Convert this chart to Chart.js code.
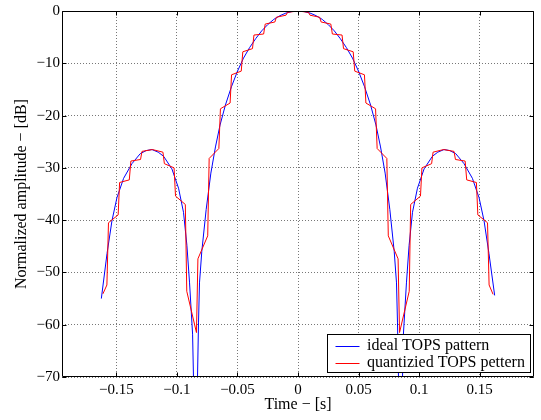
<!DOCTYPE html>
<html><head><meta charset="utf-8">
<script src="https://cdn.jsdelivr.net/npm/chart.js@4.4.1/dist/chart.umd.min.js"></script>
<style>html,body{margin:0;padding:0;background:#fff}#wrap{width:541px;height:420px}</style>
</head><body><div id="wrap"><canvas id="c" width="541" height="420"></canvas></div>
<script>
// ideal TOPS pattern
const idealTime = [-0.1625,-0.1578,-0.1537,-0.1496,-0.1441,-0.1372,-0.1304,-0.1255,-0.1207,-0.1155,-0.111,-0.1042,-0.0987,-0.0946,-0.0918,-0.0896,-0.0871,-0.0846,-0.0822,-0.0814,-0.0795,-0.0759,-0.072,-0.0682,-0.0644,-0.06,-0.055,-0.05,-0.045,-0.04,-0.035,-0.03,-0.025,-0.02,-0.015,-0.01,-0.005,
  0,0.005,0.01,0.015,0.02,0.025,0.03,0.035,0.04,0.045,0.05,0.055,0.06,0.0644,0.0682,0.072,0.0759,0.0795,0.0814,0.0822,0.0846,0.0871,0.0896,0.0918,0.0946,0.0987,0.1042,0.111,0.1155,0.1207,0.1255,0.1304,0.1372,0.1441,0.1496,0.1537,0.1578,0.1625];
const idealDb = [-55.0,-46.4,-40.1,-35.7,-32.0,-29.2,-27.3,-26.7,-26.5,-27.0,-27.8,-30.2,-33.9,-38.5,-44.8,-52.0,-61.8,-90,-59.5,-52.0,-46.0,-38.0,-31.0,-26.0,-21.8,-18.0,-14.5,-11.5,-9.0,-7.0,-5.3,-3.8,-2.6,-1.6,-0.9,-0.4,-0.1,
  0,-0.1,-0.4,-0.9,-1.6,-2.6,-3.8,-5.3,-7.0,-9.0,-11.5,-14.5,-18.0,-21.8,-26.0,-31.0,-38.0,-46.0,-52.0,-59.5,-90,-61.8,-52.0,-44.8,-38.5,-33.9,-30.2,-27.8,-27.0,-26.5,-26.7,-27.3,-29.2,-32.0,-35.7,-40.1,-46.4,-54.4];

// quantized TOPS pattern
const quantTime = [-0.1612,-0.1579,-0.1566,-0.1486,-0.1474,-0.1394,-0.1381,-0.1301,-0.1289,-0.1203,-0.1116,-0.1104,-0.1024,-0.1012,-0.0931,-0.0919,-0.0839,-0.0827,-0.0746,-0.0734,-0.0654,-0.0641,-0.0561,-0.0549,-0.0469,-0.0456,-0.0376,-0.0364,-0.0284,-0.0271,-0.0191,-0.0179,-0.0099,-0.0087,
  0,0.0087,0.0099,0.0179,0.0191,0.0271,0.0284,0.0364,0.0376,0.0456,0.0469,0.0549,0.0561,0.0641,0.0654,0.0734,0.0746,0.0827,0.0839,0.0919,0.0931,0.1012,0.1024,0.1104,0.1116,0.1203,0.1289,0.1301,0.1381,0.1394,0.1474,0.1486,0.1566,0.1579,0.1612];
const quantDb = [-54.1,-52.4,-40.5,-39.0,-32.8,-32.3,-28.7,-28.4,-26.85,-26.5,-27.0,-29.2,-30.0,-35.4,-37.0,-53.6,-61.5,-47.4,-43.0,-28.2,-26.3,-18.7,-17.6,-12.2,-11.5,-7.8,-7.2,-4.6,-4.4,-2.5,-2.1,-1.2,-0.8,-0.25,
  0,-0.25,-0.8,-1.2,-2.1,-2.5,-4.4,-4.6,-7.2,-7.8,-11.5,-12.2,-17.6,-18.7,-26.3,-28.2,-43.0,-47.4,-61.5,-53.6,-37.0,-35.4,-30.0,-29.2,-27.0,-26.5,-26.85,-28.4,-28.7,-32.3,-32.8,-39.0,-40.5,-52.4,-54.2];

const xTickValues = [-0.15,-0.1,-0.05,0,0.05,0.1,0.15];
const xTickLabels = ['\u22120.15','\u22120.1','\u22120.05','0','0.05','0.1','0.15'];
const yTickValues = [-70,-60,-50,-40,-30,-20,-10,0];
const yTickLabels = ['\u221270','\u221260','\u221250','\u221240','\u221230','\u221220','\u221210','0'];
const seriesLabels = ['ideal TOPS pattern','quantizied TOPS pettern'];
const seriesColors = ['#0000ff','#ff0000'];
const xTitle = 'Time \u2212 [s]';
const yTitle = 'Normalized amplitude \u2212 [dB]';

const FONT = 'Liberation Serif, Times New Roman, serif';

const framePlugin = {
  id: 'frame',
  afterDatasetsDraw(chart) {
    const {ctx, chartArea: a, scales} = chart;
    const x = scales.x, y = scales.y;
    const L = Math.round(a.left) + 0.5, T = Math.round(a.top) + 0.5;
    const R = Math.round(a.right) - 0.5, B = Math.round(a.bottom) - 0.5;
    ctx.save();
    ctx.strokeStyle = '#000';
    ctx.lineWidth = 1;
    ctx.setLineDash([]);
    ctx.beginPath();
    ctx.rect(L, T, R - L, B - T);
    xTickValues.forEach(v => {
      const p = Math.round(x.getPixelForValue(v)) + 0.5;
      ctx.moveTo(p, B); ctx.lineTo(p, B - 4);
      ctx.moveTo(p, T); ctx.lineTo(p, T + 4);
    });
    yTickValues.forEach(v => {
      const p = Math.round(y.getPixelForValue(v)) + 0.5;
      ctx.moveTo(L, p); ctx.lineTo(L + 4, p);
      ctx.moveTo(R, p); ctx.lineTo(R - 4, p);
    });
    ctx.stroke();

    // legend box, lower right inside the axes
    const bw = 203, bh = 38;
    const bx = Math.round(a.right - 4.5 - bw) + 0.5;
    const by = Math.round(a.bottom - 5.5 - bh) + 0.5;
    ctx.fillStyle = '#fff';
    ctx.fillRect(bx, by, bw, bh);
    ctx.strokeRect(bx, by, bw, bh);
    ctx.font = '16px ' + FONT;
    ctx.textBaseline = 'middle';
    ctx.textAlign = 'left';
    const rows = [by + 11, by + 28];
    seriesLabels.forEach((lab, i) => {
      const ry = Math.round(rows[i]) + 0.5;
      ctx.strokeStyle = seriesColors[i];
      ctx.beginPath();
      ctx.moveTo(bx + 8, ry); ctx.lineTo(bx + 32, ry);
      ctx.stroke();
      ctx.fillStyle = '#000';
      ctx.fillText(lab, bx + 39.5, rows[i] + 0.5);
    });
    ctx.restore();
  }
};

new Chart(document.getElementById('c'), {
  type: 'scatter',
  data: {
    datasets: [
      { label: seriesLabels[0], data: idealTime.map((t, i) => ({x: t, y: idealDb[i]})),
        showLine: true, borderColor: seriesColors[0], backgroundColor: seriesColors[0],
        borderWidth: 1, pointRadius: 0, tension: 0, order: 1 },
      { label: seriesLabels[1], data: quantTime.map((t, i) => ({x: t, y: quantDb[i]})),
        showLine: true, borderColor: seriesColors[1], backgroundColor: seriesColors[1],
        borderWidth: 1, pointRadius: 0, tension: 0, order: 0 }
    ]
  },
  options: {
    responsive: false,
    animation: false,
    devicePixelRatio: 1,
    layout: { padding: { top: 5, right: 7, left: 0, bottom: 0 } },
    plugins: { legend: { display: false }, tooltip: { enabled: false } },
    scales: {
      x: {
        type: 'linear', min: -0.195, max: 0.195,
        afterBuildTicks: s => { s.ticks = xTickValues.map(v => ({value: v})); },
        afterFit: s => { s.height = 43; },
        ticks: { callback: (v, i) => xTickLabels[i], color: '#000', padding: 4,
                 maxRotation: 0, autoSkip: false, font: { family: FONT, size: 15 } },
        grid: { color: '#777777', lineWidth: 1, drawTicks: false },
        border: { display: false, dash: [1, 2] },
        title: { display: true, text: xTitle, color: '#000', font: { family: FONT, size: 16 },
                 padding: { top: 0, bottom: 5.4 } }
      },
      y: {
        type: 'linear', min: -70, max: 0,
        afterBuildTicks: s => { s.ticks = yTickValues.map(v => ({value: v})); },
        afterFit: s => { s.width = 62; },
        ticks: { callback: (v, i) => yTickLabels[i], color: '#000', padding: 2,
                 autoSkip: false, font: { family: FONT, size: 15 } },
        grid: { color: '#777777', lineWidth: 1, drawTicks: false },
        border: { display: false, dash: [1, 2] },
        title: { display: true, text: yTitle, color: '#000', font: { family: FONT, size: 16 },
                 padding: { top: 12.4, bottom: 0 } }
      }
    }
  },
  plugins: [framePlugin]
});
</script>
</body></html>
